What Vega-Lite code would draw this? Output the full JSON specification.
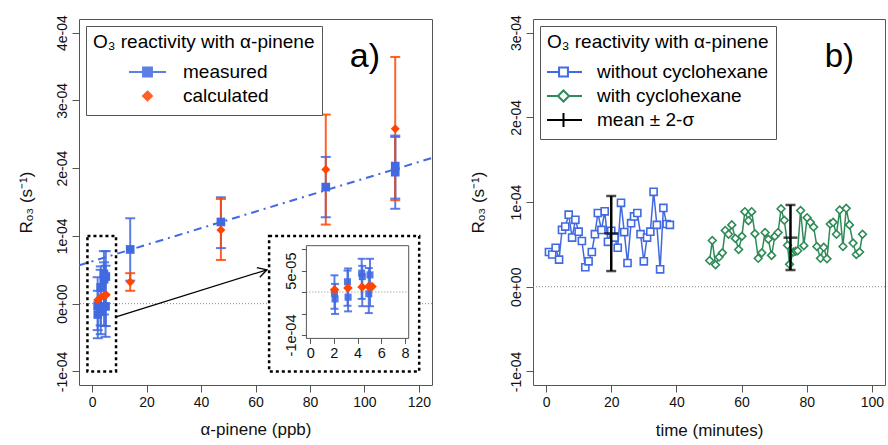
{
  "$schema": "https://vega.github.io/schema/vega-lite/v6.json",
  "padding": {"left": 16, "top": 14, "right": 2, "bottom": 2},
  "background": "white",
  "config": {
    "font": "Liberation Sans",
    "axis": {"domain": false, "grid": false, "tickColor": "#555", "tickWidth": 1, "tickSize": 7, "labelFontSize": 14, "labelColor": "#111", "labelPadding": 3, "titleFontSize": 17, "titleFontWeight": "normal", "titleColor": "#111", "labelFlush": false, "labelOverlap": false},
    "legend": {"orient": "top-left", "offset": 7, "strokeColor": "#555", "fillColor": "white", "padding": 7, "titleFontSize": 19, "titleFontWeight": "normal", "titleColor": "#000", "labelFontSize": 19, "labelColor": "#000", "titleLimit": 400, "labelLimit": 400, "symbolSize": 1369, "clipHeight": 24, "rowPadding": 0, "titlePadding": 8},
    "title": {"font": "Liberation Sans"}
  },
  "datasets": {
    "pa": [
      {"x": 2.05, "y": -3e-6, "lo": -3.9e-5, "hi": 3.9e-5, "s": "measured"},
      {"x": 2.1, "y": -1.6e-5, "lo": -5.1e-5, "hi": 1.9e-5, "s": "measured"},
      {"x": 3.15, "y": 2.4e-5, "lo": -3.2e-5, "hi": 5.0e-5, "s": "measured"},
      {"x": 3.2, "y": -1.2e-5, "lo": -4.5e-5, "hi": 5.5e-5, "s": "measured"},
      {"x": 4.35, "y": 4.4e-5, "lo": -1.6e-5, "hi": 7.75e-5, "s": "measured"},
      {"x": 4.4, "y": 3.6e-5, "lo": -3.3e-5, "hi": 6.1e-5, "s": "measured"},
      {"x": 4.95, "y": -4e-6, "lo": -4.9e-5, "hi": 5.6e-5, "s": "measured"},
      {"x": 5.05, "y": 4.0e-5, "lo": -3.3e-5, "hi": 7.75e-5, "s": "measured"},
      {"x": 14, "y": 8.0e-5, "lo": 3.4e-5, "hi": 1.26e-4, "s": "measured"},
      {"x": 47.3, "y": 1.205e-4, "lo": 8.2e-5, "hi": 1.57e-4, "s": "measured"},
      {"x": 85.8, "y": 1.72e-4, "lo": 1.275e-4, "hi": 2.165e-4, "s": "measured"},
      {"x": 111.3, "y": 1.94e-4, "lo": 1.40e-4, "hi": 2.46e-4, "s": "measured"},
      {"x": 111.3, "y": 2.03e-4, "lo": 1.55e-4, "hi": 2.48e-4, "s": "measured"},
      {"x": 2.06, "y": 5.4e-6, "lo": null, "hi": null, "s": "calculated"},
      {"x": 3.19, "y": 9.3e-6, "lo": null, "hi": null, "s": "calculated"},
      {"x": 4.38, "y": 1.16e-5, "lo": null, "hi": null, "s": "calculated"},
      {"x": 4.94, "y": 1.3e-5, "lo": null, "hi": null, "s": "calculated"},
      {"x": 5.22, "y": 1.3e-5, "lo": null, "hi": null, "s": "calculated"},
      {"x": 14, "y": 3.2e-5, "lo": 1.9e-5, "hi": 4.5e-5, "s": "calculated"},
      {"x": 47.3, "y": 1.087e-4, "lo": 6.45e-5, "hi": 1.545e-4, "s": "calculated"},
      {"x": 85.8, "y": 1.98e-4, "lo": 1.167e-4, "hi": 2.79e-4, "s": "calculated"},
      {"x": 111.3, "y": 2.58e-4, "lo": 1.526e-4, "hi": 3.64e-4, "s": "calculated"}
    ],
    "pb": [
      {"t": 0.9, "v": 4.1e-5, "s": "without cyclohexane"},
      {"t": 1.9, "v": 3.8e-5, "s": "without cyclohexane"},
      {"t": 2.95, "v": 4.6e-5, "s": "without cyclohexane"},
      {"t": 4, "v": 3.2e-5, "s": "without cyclohexane"},
      {"t": 4.9, "v": 6.7e-5, "s": "without cyclohexane"},
      {"t": 5.9, "v": 7.1e-5, "s": "without cyclohexane"},
      {"t": 6.95, "v": 8.5e-5, "s": "without cyclohexane"},
      {"t": 8, "v": 5.8e-5, "s": "without cyclohexane"},
      {"t": 9, "v": 7.9e-5, "s": "without cyclohexane"},
      {"t": 10, "v": 6.5e-5, "s": "without cyclohexane"},
      {"t": 11, "v": 5.4e-5, "s": "without cyclohexane"},
      {"t": 12.05, "v": 2.3e-5, "s": "without cyclohexane"},
      {"t": 13.05, "v": 3.0e-5, "s": "without cyclohexane"},
      {"t": 14.05, "v": 4.1e-5, "s": "without cyclohexane"},
      {"t": 15, "v": 6.2e-5, "s": "without cyclohexane"},
      {"t": 15.9, "v": 8.7e-5, "s": "without cyclohexane"},
      {"t": 17, "v": 6.7e-5, "s": "without cyclohexane"},
      {"t": 18, "v": 8.9e-5, "s": "without cyclohexane"},
      {"t": 19, "v": 5.3e-5, "s": "without cyclohexane"},
      {"t": 20, "v": 6.6e-5, "s": "without cyclohexane"},
      {"t": 21, "v": 5.8e-5, "s": "without cyclohexane"},
      {"t": 22, "v": 4.6e-5, "s": "without cyclohexane"},
      {"t": 23, "v": 9.9e-5, "s": "without cyclohexane"},
      {"t": 24, "v": 6.45e-5, "s": "without cyclohexane"},
      {"t": 25, "v": 2.8e-5, "s": "without cyclohexane"},
      {"t": 26.1, "v": 7.5e-5, "s": "without cyclohexane"},
      {"t": 27, "v": 8.3e-5, "s": "without cyclohexane"},
      {"t": 28, "v": 8.7e-5, "s": "without cyclohexane"},
      {"t": 29, "v": 6.2e-5, "s": "without cyclohexane"},
      {"t": 30, "v": 3.0e-5, "s": "without cyclohexane"},
      {"t": 31, "v": 5.8e-5, "s": "without cyclohexane"},
      {"t": 32, "v": 6.5e-5, "s": "without cyclohexane"},
      {"t": 33, "v": 1.12e-4, "s": "without cyclohexane"},
      {"t": 34, "v": 7.3e-5, "s": "without cyclohexane"},
      {"t": 35, "v": 2.05e-5, "s": "without cyclohexane"},
      {"t": 36, "v": 9.3e-5, "s": "without cyclohexane"},
      {"t": 37, "v": 7.4e-5, "s": "without cyclohexane"},
      {"t": 38, "v": 7.3e-5, "s": "without cyclohexane"},
      {"t": 50.2, "v": 3.1e-5, "s": "with cyclohexane"},
      {"t": 51, "v": 5.45e-5, "s": "with cyclohexane"},
      {"t": 52, "v": 2.6e-5, "s": "with cyclohexane"},
      {"t": 53.1, "v": 3.5e-5, "s": "with cyclohexane"},
      {"t": 54.1, "v": 4.0e-5, "s": "with cyclohexane"},
      {"t": 55, "v": 6.65e-5, "s": "with cyclohexane"},
      {"t": 56, "v": 6.2e-5, "s": "with cyclohexane"},
      {"t": 57, "v": 7.3e-5, "s": "with cyclohexane"},
      {"t": 58.1, "v": 5.7e-5, "s": "with cyclohexane"},
      {"t": 59.1, "v": 4.4e-5, "s": "with cyclohexane"},
      {"t": 60.1, "v": 5.95e-5, "s": "with cyclohexane"},
      {"t": 61, "v": 8.86e-5, "s": "with cyclohexane"},
      {"t": 62.1, "v": 7.8e-5, "s": "with cyclohexane"},
      {"t": 63.1, "v": 8.86e-5, "s": "with cyclohexane"},
      {"t": 64.1, "v": 6.26e-5, "s": "with cyclohexane"},
      {"t": 65.1, "v": 3.35e-5, "s": "with cyclohexane"},
      {"t": 66.2, "v": 4.0e-5, "s": "with cyclohexane"},
      {"t": 67.2, "v": 6.4e-5, "s": "with cyclohexane"},
      {"t": 68.2, "v": 5.6e-5, "s": "with cyclohexane"},
      {"t": 69.2, "v": 3.7e-5, "s": "with cyclohexane"},
      {"t": 70.2, "v": 5.95e-5, "s": "with cyclohexane"},
      {"t": 71.2, "v": 6.4e-5, "s": "with cyclohexane"},
      {"t": 72.1, "v": 9.2e-5, "s": "with cyclohexane"},
      {"t": 73.1, "v": 7.85e-5, "s": "with cyclohexane"},
      {"t": 74.1, "v": 4.9e-5, "s": "with cyclohexane"},
      {"t": 74.7, "v": 2.64e-5, "s": "with cyclohexane"},
      {"t": 75.9, "v": 4.1e-5, "s": "with cyclohexane"},
      {"t": 76.6, "v": 4.2e-5, "s": "with cyclohexane"},
      {"t": 77.2, "v": 4.25e-5, "s": "with cyclohexane"},
      {"t": 78.1, "v": 9.0e-5, "s": "with cyclohexane"},
      {"t": 79.1, "v": 4.85e-5, "s": "with cyclohexane"},
      {"t": 80.1, "v": 8.15e-5, "s": "with cyclohexane"},
      {"t": 81.1, "v": 7.6e-5, "s": "with cyclohexane"},
      {"t": 82.1, "v": 7.05e-5, "s": "with cyclohexane"},
      {"t": 83.1, "v": 4.75e-5, "s": "with cyclohexane"},
      {"t": 84.2, "v": 3.35e-5, "s": "with cyclohexane"},
      {"t": 85.2, "v": 4.65e-5, "s": "with cyclohexane"},
      {"t": 86.2, "v": 3.3e-5, "s": "with cyclohexane"},
      {"t": 87.2, "v": 7.4e-5, "s": "with cyclohexane"},
      {"t": 88.1, "v": 7.6e-5, "s": "with cyclohexane"},
      {"t": 89.1, "v": 6.2e-5, "s": "with cyclohexane"},
      {"t": 90.1, "v": 9.05e-5, "s": "with cyclohexane"},
      {"t": 91.1, "v": 4.75e-5, "s": "with cyclohexane"},
      {"t": 92.1, "v": 9.25e-5, "s": "with cyclohexane"},
      {"t": 93.1, "v": 7.3e-5, "s": "with cyclohexane"},
      {"t": 94.2, "v": 5.15e-5, "s": "with cyclohexane"},
      {"t": 95.2, "v": 3.8e-5, "s": "with cyclohexane"},
      {"t": 96.2, "v": 4.1e-5, "s": "with cyclohexane"},
      {"t": 97.1, "v": 6.2e-5, "s": "with cyclohexane"}
    ],
    "pm": [
      {"t": 20, "m": 6.3e-5, "lo": 1.85e-5, "hi": 1.071e-4},
      {"t": 75, "m": 5.79e-5, "lo": 1.97e-5, "hi": 9.65e-5}
    ]
  },
  "bounds": "flush",
  "spacing": 101,
  "resolve": {"scale": {"color": "independent", "shape": "independent", "stroke": "independent"}, "legend": {"color": "independent", "shape": "independent", "stroke": "independent"}},
  "hconcat": [
    {
      "width": 353,
      "height": 366,
      "view": {"stroke": "#555", "strokeWidth": 1},
      "title": {"text": "a)", "anchor": "end", "frame": "group", "orient": "top", "fontSize": 34, "fontWeight": "normal", "color": "#000", "baseline": "alphabetic", "offset": 0, "dx": -52, "dy": 86},
      "resolve": {"scale": {"x": "independent", "y": "independent"}, "axis": {"x": "independent", "y": "independent"}},
      "layer": [
        {
          "layer": [
            {
              "data": {"values": [{"x": -4.8, "y": 5.66e-5, "x2": 124.8, "y2": 2.15e-4}]},
              "mark": {"type": "rule", "color": "#4169E1", "strokeWidth": 2, "strokeDash": [8, 5, 2, 5], "clip": true},
              "encoding": {
                "x": {"field": "x", "type": "quantitative", "title": "α-pinene (ppb)", "scale": {"domain": [-4.8, 124.8], "nice": false, "zero": false}, "axis": {"values": [0, 20, 40, 60, 80, 100, 120], "titlePadding": 12}},
                "y": {"field": "y", "type": "quantitative", "title": "Rₒ₃ (s⁻¹)", "scale": {"domain": [-1.2e-4, 4.2e-4], "nice": false, "zero": false}, "axis": {"values": [-1e-4, 0, 1e-4, 2e-4, 3e-4, 4e-4], "labelExpr": "replace(replace(replace(format(datum.value, '.0e'), '−', '-'), 'e-', 'e-0'), 'e+', 'e+0')", "labelAngle": -90, "labelAlign": "center", "labelBaseline": "bottom", "titlePadding": 20}},
                "x2": {"field": "x2"},
                "y2": {"field": "y2"}
              }
            },
            {
              "data": {"values": [{"z": 0}]},
              "mark": {"type": "rule", "color": "#888", "strokeDash": [1, 2], "strokeWidth": 1},
              "encoding": {"y": {"field": "z", "type": "quantitative", "title": "Rₒ₃ (s⁻¹)"}}
            },
            {
              "data": {"name": "pa"},
              "mark": {"type": "rule", "strokeWidth": 2, "opacity": 0.85},
              "encoding": {
                "x": {"field": "x", "type": "quantitative", "title": "α-pinene (ppb)"},
                "y": {"field": "lo", "type": "quantitative", "title": "Rₒ₃ (s⁻¹)"},
                "y2": {"field": "hi"},
                "color": {"field": "s", "type": "nominal", "scale": {"domain": ["measured", "calculated"], "range": ["#4169E1", "#FF4500"]}}
              }
            },
            {
              "data": {"name": "pa"},
              "mark": {"type": "tick", "orient": "horizontal", "size": 10, "thickness": 2, "opacity": 0.85},
              "encoding": {
                "x": {"field": "x", "type": "quantitative", "title": "α-pinene (ppb)"},
                "y": {"field": "lo", "type": "quantitative", "title": "Rₒ₃ (s⁻¹)"},
                "color": {"field": "s", "type": "nominal"}
              }
            },
            {
              "data": {"name": "pa"},
              "mark": {"type": "tick", "orient": "horizontal", "size": 10, "thickness": 2, "opacity": 0.85},
              "encoding": {
                "x": {"field": "x", "type": "quantitative", "title": "α-pinene (ppb)"},
                "y": {"field": "hi", "type": "quantitative", "title": "Rₒ₃ (s⁻¹)"},
                "color": {"field": "s", "type": "nominal"}
              }
            },
            {
              "data": {"name": "pa"},
              "transform": [{"filter": "datum.s === 'measured'"}],
              "mark": {"type": "point", "filled": true, "shape": "square", "size": 75, "opacity": 1},
              "encoding": {
                "x": {"field": "x", "type": "quantitative", "title": "α-pinene (ppb)"},
                "y": {"field": "y", "type": "quantitative", "title": "Rₒ₃ (s⁻¹)"},
                "color": {"field": "s", "type": "nominal"}
              }
            },
            {
              "data": {"name": "pa"},
              "transform": [{"filter": "datum.s === 'calculated'"}],
              "mark": {"type": "point", "filled": true, "shape": "diamond", "size": 80, "opacity": 1},
              "encoding": {
                "x": {"field": "x", "type": "quantitative", "title": "α-pinene (ppb)"},
                "y": {"field": "y", "type": "quantitative", "title": "Rₒ₃ (s⁻¹)"},
                "color": {"field": "s", "type": "nominal"}
              }
            },
            {
              "data": {"name": "pa"},
              "mark": {"type": "point", "filled": true, "opacity": 0},
              "encoding": {
                "x": {"field": "x", "type": "quantitative", "title": "α-pinene (ppb)"},
                "y": {"field": "y", "type": "quantitative", "title": "Rₒ₃ (s⁻¹)"},
                "shape": {"field": "s", "type": "nominal", "scale": {"domain": ["measured", "calculated"], "range": ["M-1,0L1,0M-0.24,-0.24L0.24,-0.24L0.24,0.24L-0.24,0.24Z", "M0,-0.24L0.24,0L0,0.24L-0.24,0Z"]}, "legend": {"title": "O₃ reactivity with α-pinene"}},
                "stroke": {"field": "s", "type": "nominal", "scale": {"domain": ["measured", "calculated"], "range": ["#4169E1", "#FF4500"]}, "legend": {"title": "O₃ reactivity with α-pinene"}},
                "color": {"field": "s", "type": "nominal", "legend": {"title": "O₃ reactivity with α-pinene", "symbolOffset": 35, "labelOffset": 16, "symbolOpacity": 1, "symbolStrokeWidth": 2}}
              }
            },
            {
              "data": {"values": [{"x": -1.7, "x2": 8.8, "y": -1e-4, "y2": 1e-4}]},
              "mark": {"type": "rect", "fill": null, "fillOpacity": 0, "stroke": "#000", "strokeWidth": 2.5, "strokeDash": [3, 3]},
              "encoding": {
                "x": {"field": "x", "type": "quantitative", "title": "α-pinene (ppb)"},
                "x2": {"field": "x2"},
                "y": {"field": "y", "type": "quantitative", "title": "Rₒ₃ (s⁻¹)"},
                "y2": {"field": "y2"}
              }
            },
            {
              "data": {"values": [{"x": 65, "x2": 120.1, "y": -1e-4, "y2": 1e-4}]},
              "mark": {"type": "rect", "fill": "white", "stroke": "#000", "strokeWidth": 2.5, "strokeDash": [3, 3]},
              "encoding": {
                "x": {"field": "x", "type": "quantitative", "title": "α-pinene (ppb)"},
                "x2": {"field": "x2"},
                "y": {"field": "y", "type": "quantitative", "title": "Rₒ₃ (s⁻¹)"},
                "y2": {"field": "y2"}
              }
            },
            {
              "data": {"values": [{"x": 9.1, "y": -1.9e-5, "x2": 64.2, "y2": 5.0e-5}]},
              "mark": {"type": "rule", "color": "#000", "strokeWidth": 1.3},
              "encoding": {
                "x": {"field": "x", "type": "quantitative", "title": "α-pinene (ppb)"},
                "y": {"field": "y", "type": "quantitative", "title": "Rₒ₃ (s⁻¹)"},
                "x2": {"field": "x2"},
                "y2": {"field": "y2"}
              }
            },
            {
              "data": {"values": [{"x": 64.2, "y": 5.0e-5}]},
              "mark": {"type": "point", "shape": "M-1,-0.55L0,0L-1,0.55", "angle": 342.7, "size": 324, "filled": false, "stroke": "#000", "strokeWidth": 1.3, "opacity": 1},
              "encoding": {
                "x": {"field": "x", "type": "quantitative", "title": "α-pinene (ppb)"},
                "y": {"field": "y", "type": "quantitative", "title": "Rₒ₃ (s⁻¹)"}
              }
            }
          ]
        },
        {
          "layer": [
            {
              "data": {"values": [{"x": -0.32, "x2": 8.32, "y": -1.08e-4, "y2": 1.08e-4}]},
              "mark": {"type": "rect", "fill": "white", "stroke": "#555", "strokeWidth": 1},
              "encoding": {
                "x": {"field": "x", "type": "quantitative", "title": null, "scale": {"domain": [-0.32, 8.32], "range": [227.4, 329.7], "nice": false, "zero": false}, "axis": {"orient": "bottom", "offset": -46.6, "values": [0, 2, 4, 6, 8], "tickSize": 5, "labelFontSize": 14.5, "labelPadding": 3, "zindex": 1}},
                "x2": {"field": "x2"},
                "y": {"field": "y", "type": "quantitative", "title": null, "scale": {"domain": [-1.08e-4, 1.08e-4], "range": [319.4, 226.7], "nice": false, "zero": false}, "axis": {"orient": "left", "offset": -227.4, "values": [-1e-4, -5e-5, 0, 5e-5, 1e-4], "tickSize": 5, "labelFontSize": 14.5, "labelExpr": "abs(datum.value - 5e-5) < 1e-9 ? '5e-05' : abs(datum.value + 1e-4) < 1e-9 ? '-1e-04' : ''", "labelAngle": -90, "labelAlign": "center", "labelBaseline": "bottom", "zindex": 1}},
                "y2": {"field": "y2"}
              }
            },
            {
              "data": {"values": [{"x": -0.32, "x2": 8.32, "z": 0}]},
              "mark": {"type": "rule", "color": "#888", "strokeDash": [1, 2], "strokeWidth": 1},
              "encoding": {
                "x": {"field": "x", "type": "quantitative", "title": null},
                "x2": {"field": "x2"},
                "y": {"field": "z", "type": "quantitative", "title": null}
              }
            },
            {
              "data": {"name": "pa"},
              "transform": [{"filter": "datum.x < 8"}],
              "mark": {"type": "rule", "strokeWidth": 2, "opacity": 0.85},
              "encoding": {
                "x": {"field": "x", "type": "quantitative", "title": null},
                "y": {"field": "lo", "type": "quantitative", "title": null},
                "y2": {"field": "hi"},
                "color": {"field": "s", "type": "nominal"}
              }
            },
            {
              "data": {"name": "pa"},
              "transform": [{"filter": "datum.x < 8"}],
              "mark": {"type": "tick", "orient": "horizontal", "size": 8, "thickness": 2, "opacity": 0.85},
              "encoding": {
                "x": {"field": "x", "type": "quantitative", "title": null},
                "y": {"field": "lo", "type": "quantitative", "title": null},
                "color": {"field": "s", "type": "nominal"}
              }
            },
            {
              "data": {"name": "pa"},
              "transform": [{"filter": "datum.x < 8"}],
              "mark": {"type": "tick", "orient": "horizontal", "size": 8, "thickness": 2, "opacity": 0.85},
              "encoding": {
                "x": {"field": "x", "type": "quantitative", "title": null},
                "y": {"field": "hi", "type": "quantitative", "title": null},
                "color": {"field": "s", "type": "nominal"}
              }
            },
            {
              "data": {"name": "pa"},
              "transform": [{"filter": "datum.x < 8 && datum.s === 'measured'"}],
              "mark": {"type": "point", "filled": true, "shape": "square", "size": 50, "opacity": 0.9},
              "encoding": {
                "x": {"field": "x", "type": "quantitative", "title": null},
                "y": {"field": "y", "type": "quantitative", "title": null},
                "color": {"field": "s", "type": "nominal"}
              }
            },
            {
              "data": {"name": "pa"},
              "transform": [{"filter": "datum.x < 8 && datum.s === 'calculated'"}],
              "mark": {"type": "point", "filled": true, "shape": "diamond", "size": 90, "opacity": 1},
              "encoding": {
                "x": {"field": "x", "type": "quantitative", "title": null},
                "y": {"field": "y", "type": "quantitative", "title": null},
                "color": {"field": "s", "type": "nominal"}
              }
            }
          ]
        }
      ]
    },
    {
      "width": 352,
      "height": 366,
      "view": {"stroke": "#555", "strokeWidth": 1},
      "title": {"text": "b)", "anchor": "end", "frame": "group", "orient": "top", "fontSize": 33, "fontWeight": "normal", "color": "#000", "baseline": "alphabetic", "offset": 0, "dx": -31, "dy": 85},
      "layer": [
        {
          "data": {"values": [{"z": 0}]},
          "mark": {"type": "rule", "color": "#888", "strokeDash": [1, 2], "strokeWidth": 1},
          "encoding": {"y": {"field": "z", "type": "quantitative", "title": "Rₒ₃ (s⁻¹)", "scale": {"domain": [-1.16e-4, 3.16e-4], "nice": false, "zero": false}, "axis": {"values": [-1e-4, 0, 1e-4, 2e-4, 3e-4], "labelExpr": "replace(replace(replace(format(datum.value, '.0e'), '−', '-'), 'e-', 'e-0'), 'e+', 'e+0')", "labelAngle": -90, "labelAlign": "center", "labelBaseline": "bottom", "titlePadding": 22}}}
        },
        {
          "data": {"name": "pb"},
          "mark": {"type": "line", "strokeWidth": 1.5},
          "encoding": {
            "x": {"field": "t", "type": "quantitative", "title": "time (minutes)", "scale": {"domain": [-4, 104], "nice": false, "zero": false}, "axis": {"values": [0, 20, 40, 60, 80, 100], "titlePadding": 13}},
            "y": {"field": "v", "type": "quantitative", "title": "Rₒ₃ (s⁻¹)"},
            "color": {"field": "s", "type": "nominal", "scale": {"domain": ["without cyclohexane", "with cyclohexane", "mean ± 2-σ"], "range": ["#4169E1", "#2E8B57", "#000000"]}}
          }
        },
        {
          "data": {"name": "pb"},
          "transform": [{"filter": "datum.s === 'without cyclohexane'"}],
          "mark": {"type": "point", "filled": false, "shape": "square", "fill": "white", "fillOpacity": 1, "size": 50, "strokeWidth": 1.6, "opacity": 1},
          "encoding": {
            "x": {"field": "t", "type": "quantitative", "title": "time (minutes)"},
            "y": {"field": "v", "type": "quantitative", "title": "Rₒ₃ (s⁻¹)"},
            "color": {"field": "s", "type": "nominal"}
          }
        },
        {
          "data": {"name": "pb"},
          "transform": [{"filter": "datum.s === 'with cyclohexane'"}],
          "mark": {"type": "point", "filled": false, "shape": "diamond", "fill": "white", "fillOpacity": 1, "size": 60, "strokeWidth": 1.6, "opacity": 1},
          "encoding": {
            "x": {"field": "t", "type": "quantitative", "title": "time (minutes)"},
            "y": {"field": "v", "type": "quantitative", "title": "Rₒ₃ (s⁻¹)"},
            "color": {"field": "s", "type": "nominal"}
          }
        },
        {
          "data": {"name": "pb"},
          "mark": {"type": "point", "filled": false, "opacity": 0},
          "encoding": {
            "x": {"field": "t", "type": "quantitative", "title": "time (minutes)"},
            "y": {"field": "v", "type": "quantitative", "title": "Rₒ₃ (s⁻¹)"},
            "shape": {"field": "s", "type": "nominal", "scale": {"domain": ["without cyclohexane", "with cyclohexane", "mean ± 2-σ"], "range": ["M-1,0L-0.24,0M0.24,0L1,0M-0.24,-0.24L0.24,-0.24L0.24,0.24L-0.24,0.24Z", "M-1,0L-0.3,0M0.3,0L1,0M-0.3,0L0,-0.3L0.3,0L0,0.3Z", "M-1,0L1,0M0,-0.38L0,0.38"]}, "legend": {"title": "O₃ reactivity with α-pinene"}},
            "color": {"field": "s", "type": "nominal", "legend": {"title": "O₃ reactivity with α-pinene", "symbolOffset": -3, "labelOffset": 14, "symbolOpacity": 1, "symbolStrokeWidth": 2}}
          }
        },
        {
          "data": {"name": "pm"},
          "mark": {"type": "rule", "color": "#000", "strokeWidth": 2.5},
          "encoding": {
            "x": {"field": "t", "type": "quantitative", "title": "time (minutes)"},
            "y": {"field": "lo", "type": "quantitative", "title": "Rₒ₃ (s⁻¹)"},
            "y2": {"field": "hi"}
          }
        },
        {
          "data": {"name": "pm"},
          "mark": {"type": "tick", "orient": "horizontal", "color": "#000", "size": 10, "thickness": 2.5},
          "encoding": {
            "x": {"field": "t", "type": "quantitative", "title": "time (minutes)"},
            "y": {"field": "lo", "type": "quantitative", "title": "Rₒ₃ (s⁻¹)"}
          }
        },
        {
          "data": {"name": "pm"},
          "mark": {"type": "tick", "orient": "horizontal", "color": "#000", "size": 10, "thickness": 2.5},
          "encoding": {
            "x": {"field": "t", "type": "quantitative", "title": "time (minutes)"},
            "y": {"field": "hi", "type": "quantitative", "title": "Rₒ₃ (s⁻¹)"}
          }
        },
        {
          "data": {"name": "pm"},
          "mark": {"type": "tick", "orient": "horizontal", "color": "#000", "size": 14, "thickness": 2.5},
          "encoding": {
            "x": {"field": "t", "type": "quantitative", "title": "time (minutes)"},
            "y": {"field": "m", "type": "quantitative", "title": "Rₒ₃ (s⁻¹)"}
          }
        }
      ]
    }
  ]
}
